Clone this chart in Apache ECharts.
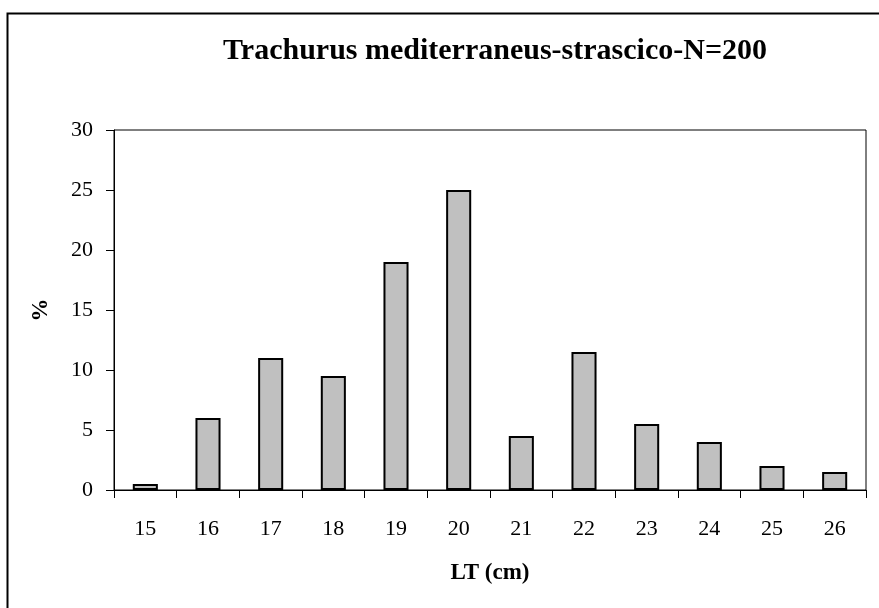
<!DOCTYPE html>
<html>
<head>
<meta charset="utf-8">
<script src="https://cdn.jsdelivr.net/npm/echarts@6/dist/echarts.min.js"></script>
<style>
  html, body { margin: 0; padding: 0; background: #fff; }
  #main { width: 879px; height: 608px; }
</style>
</head>
<body>
<div id="main"></div>
<script>
let lengthClasses = ['15', '16', '17', '18', '19', '20', '21', '22', '23', '24', '25', '26'];
let percentValues = [0.5, 6, 11, 9.5, 19, 25, 4.5, 11.5, 5.5, 4, 2, 1.5];

let chartDom = document.getElementById('main');
let myChart = echarts.init(chartDom);
let serif = '"Liberation Serif", "Times New Roman", serif';

let option = {
  animation: false,
  backgroundColor: '#fff',
  title: {
    text: 'Trachurus mediterraneus-strascico-N=200',
    left: 490,
    top: 31,
    textAlign: 'center',
    textStyle: {
      fontFamily: serif,
      fontWeight: 'bold',
      fontSize: 30,
      color: '#000'
    }
  },
  // outer frame, only top and left edges fall inside the picture
  graphic: [
    {
      type: 'rect',
      shape: { x: 7.5, y: 13.5, width: 1000, height: 1000 },
      style: { fill: 'none', stroke: '#000', lineWidth: 2 },
      silent: true
    }
  ],
  grid: {
    left: 114,
    right: 13,
    top: 130,
    bottom: 118,
    show: true,
    borderColor: '#000',
    borderWidth: 1,
    backgroundColor: 'transparent'
  },
  xAxis: {
    type: 'category',
    data: lengthClasses,
    name: 'LT (cm)',
    nameLocation: 'middle',
    nameGap: 72,
    nameTextStyle: {
      fontFamily: serif,
      fontWeight: 'bold',
      fontSize: 23,
      color: '#000'
    },
    axisLine: { lineStyle: { color: '#000', width: 1 } },
    axisTick: { show: true, length: 8, alignWithLabel: false, lineStyle: { color: '#000' } },
    axisLabel: {
      margin: 28,
      fontFamily: serif,
      fontSize: 22,
      color: '#000'
    },
    splitLine: { show: false }
  },
  yAxis: {
    type: 'value',
    min: 0,
    max: 30,
    interval: 5,
    name: '%',
    nameLocation: 'middle',
    nameGap: 61,
    nameRotate: 90,
    nameTextStyle: {
      fontFamily: serif,
      fontWeight: 'bold',
      fontSize: 23,
      color: '#000'
    },
    axisLine: { show: true, lineStyle: { color: '#000', width: 1 } },
    axisTick: { show: true, length: 8, lineStyle: { color: '#000' } },
    axisLabel: {
      margin: 21,
      fontFamily: serif,
      fontSize: 22,
      color: '#000'
    },
    splitLine: { show: false }
  },
  series: [
    {
      type: 'bar',
      data: percentValues,
      barWidth: '40%',
      itemStyle: {
        color: '#c0c0c0',
        borderColor: '#000',
        borderWidth: 2
      }
    }
  ]
};

myChart.setOption(option);
</script>
</body>
</html>
